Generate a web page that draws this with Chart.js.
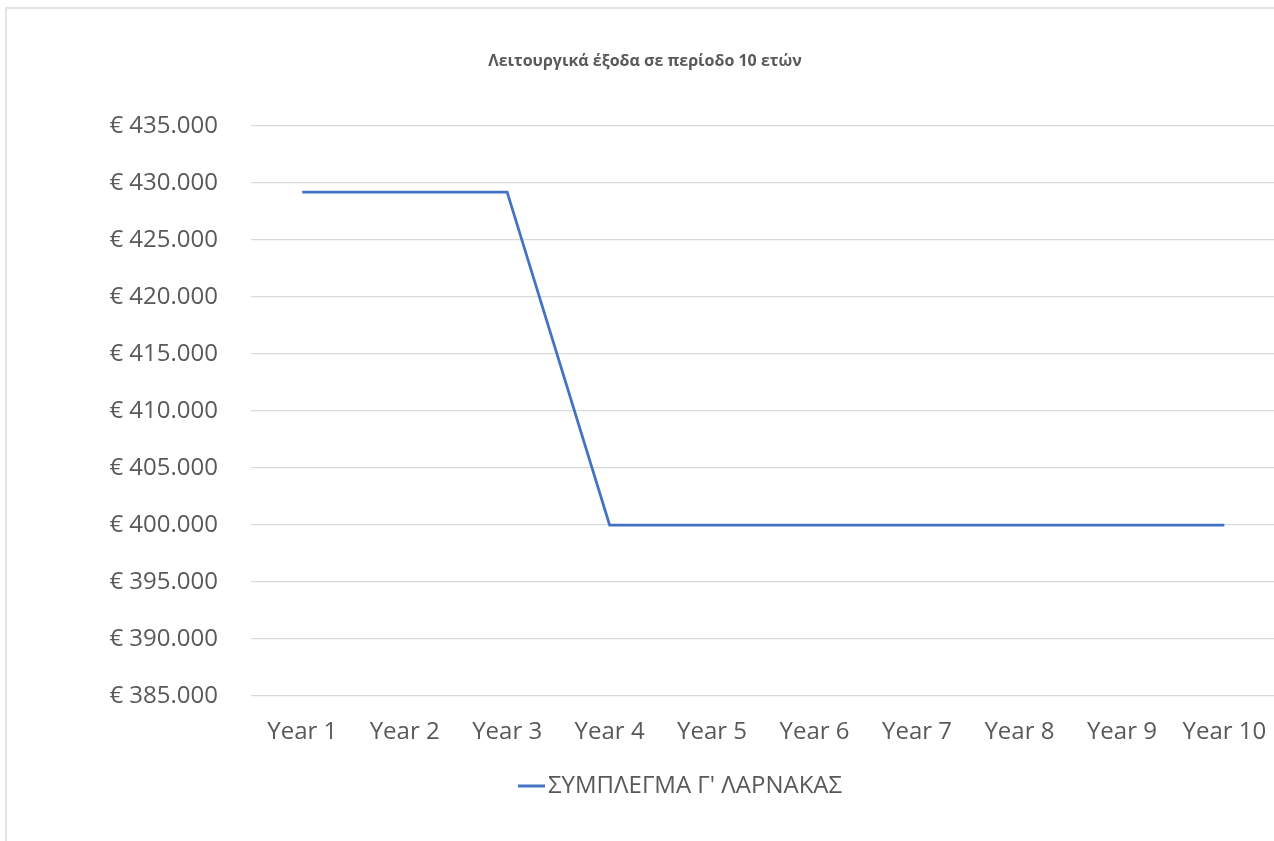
<!DOCTYPE html>
<html>
<head>
<meta charset="utf-8">
<script src="https://cdn.jsdelivr.net/npm/chart.js@4"></script>
<style>
    body { margin: 0; background: #fff; overflow: hidden; width: 1274px; height: 841px; }
    #frame { position: absolute; left: 5px; top: 7px; width: 1400px; height: 1000px; border: 2px solid #e3e3e3; }
    #wrap { position: absolute; left: 0; top: 0; width: 1290px; height: 841px; }
</style>
</head>
<body>
<div id="frame"></div>
<div id="wrap"><canvas id="chartCanvas" width="1290" height="841"></canvas></div>
<script>
const chartTitle = 'Λειτουργικά έξοδα σε περίοδο 10 ετών';
const years = ['Year 1', 'Year 2', 'Year 3', 'Year 4', 'Year 5', 'Year 6', 'Year 7', 'Year 8', 'Year 9', 'Year 10'];
const seriesName = "ΣΥΜΠΛΕΓΜΑ Γ' ΛΑΡΝΑΚΑΣ";
const costs = [429200, 429200, 429200, 400000, 400000, 400000, 400000, 400000, 400000, 400000];
const yMin = 385000;
const yMax = 435000;
const yStep = 5000;

const textColor = '#595959';
const fontFamily = "'Open Sans', 'Noto Sans', sans-serif";

function euro(v) {
    // 435000 -> "€ 435.000"
    return '€ ' + String(v).replace(/\B(?=(\d{3})+(?!\d))/g, '.');
}

// title + legend drawn by hand so they sit where the original has them
const decorPlugin = {
    id: 'decor',
    afterDraw(chart) {
        const ctx = chart.ctx;
        ctx.save();
        ctx.fillStyle = textColor;
        ctx.font = "bold 16px " + fontFamily;
        ctx.textAlign = 'center';
        ctx.textBaseline = 'middle';
        ctx.fillText(chartTitle, 645, 61);

        const ds = chart.data.datasets[0];
        ctx.strokeStyle = ds.borderColor;
        ctx.lineWidth = 3;
        ctx.beginPath();
        ctx.moveTo(518, 786);
        ctx.lineTo(545, 786);
        ctx.stroke();
        ctx.font = "24px " + fontFamily;
        ctx.textAlign = 'left';
        ctx.fillText(ds.label, 548, 786);
        ctx.restore();
    }
};

window.onload = function() {
    const ctx = document.getElementById('chartCanvas').getContext('2d');
    new Chart(ctx, {
        type: 'line',
        data: {
            labels: years,
            datasets: [{
                label: seriesName,
                data: costs,
                borderColor: '#4472C4',
                backgroundColor: '#4472C4',
                borderWidth: 2.75,
                pointRadius: 0,
                tension: 0
            }]
        },
        options: {
            responsive: false,
            animation: false,
            layout: {
                padding: { top: 126, left: 0, right: 14.4, bottom: 85 }
            },
            plugins: {
                legend: { display: false },
                title: { display: false },
                tooltip: { enabled: false }
            },
            scales: {
                x: {
                    offset: true,
                    grid: { display: false },
                    border: { display: false },
                    ticks: {
                        color: textColor,
                        padding: 14,
                        font: { family: fontFamily, size: 24 }
                    },
                    afterFit: function(scale) { scale.height = 60; }
                },
                y: {
                    min: yMin,
                    max: yMax,
                    grid: { color: '#d9d9d9', lineWidth: 1.3, drawTicks: false },
                    border: { display: false },
                    ticks: {
                        stepSize: yStep,
                        color: textColor,
                        padding: 33,
                        font: { family: fontFamily, size: 24 },
                        callback: function(v) { return euro(v); }
                    },
                    afterFit: function(scale) { scale.width = 251; }
                }
            }
        },
        plugins: [decorPlugin]
    });
};
</script>
</body>
</html>
